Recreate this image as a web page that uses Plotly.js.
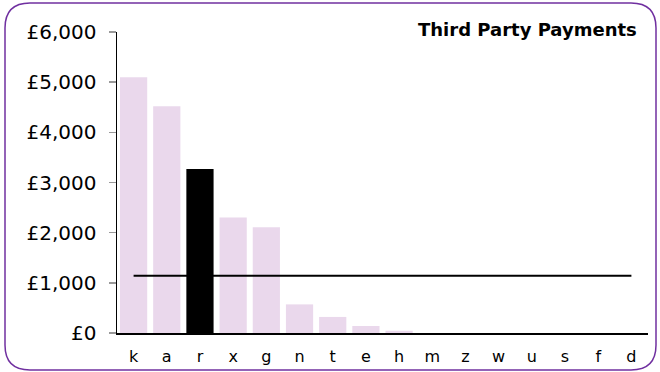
<!DOCTYPE html>
<html>
<head>
<meta charset="utf-8">
<script src="https://cdn.plot.ly/plotly-3.0.1.min.js"></script>
<style>
html,body{margin:0;padding:0;background:#fff;}
#chart{width:660px;height:372px;}
</style>
</head>
<body>
<div id="chart"></div>
<script>
// ---- data ----
const categories = ['k','a','r','x','g','n','t','e','h','m','z','w','u','s','f','d'];
const payments = [5100, 4520, 3270, 2300, 2110, 570, 320, 140, 45, 0, 0, 0, 0, 0, 0, 0];
const highlightCategory = 'r';
const averageValue = 1140;
const yTickValues = [0, 1000, 2000, 3000, 4000, 5000, 6000];
const yTickLabels = ['£0', '£1,000', '£2,000', '£3,000', '£4,000', '£5,000', '£6,000'];
const chartTitle = 'Third Party Payments';

// ---- layout geometry ----
const W = 660, H = 372;
const M = {l: 117, r: 12, t: 32, b: 39};
const pw = W - M.l - M.r, ph = H - M.t - M.b;
const px = x => (x - M.l) / pw;
const py = y => (H - M.b - y) / ph;

function roundRect(x0, y0, x1, y1, r) {
  const P = (x, y) => px(x) + ',' + py(y);
  return 'M' + P(x0 + r, y0) + ' L' + P(x1 - r, y0) + ' Q' + P(x1, y0) + ' ' + P(x1, y0 + r) +
    ' L' + P(x1, y1 - r) + ' Q' + P(x1, y1) + ' ' + P(x1 - r, y1) +
    ' L' + P(x0 + r, y1) + ' Q' + P(x0, y1) + ' ' + P(x0, y1 - r) +
    ' L' + P(x0, y0 + r) + ' Q' + P(x0, y0) + ' ' + P(x0 + r, y0) + ' Z';
}

const barColors = categories.map(c => c === highlightCategory ? '#000000' : '#EAD8EC');

const traces = [
  {
    type: 'bar',
    x: categories,
    y: payments,
    marker: {color: barColors, line: {width: 0}},
    hoverinfo: 'x+y'
  },
  {
    type: 'scatter',
    mode: 'lines',
    x: [categories[0], categories[categories.length - 1]],
    y: [averageValue, averageValue],
    line: {color: '#000000', width: 2},
    hoverinfo: 'skip'
  }
];

const layout = {
  width: W, height: H,
  margin: M,
  paper_bgcolor: '#ffffff',
  plot_bgcolor: '#ffffff',
  showlegend: false,
  bargap: 0.18,
  font: {family: 'DejaVu Sans, Verdana, sans-serif', color: '#000000'},
  xaxis: {
    type: 'category',
    range: [-0.5, categories.length - 0.5],
    showgrid: false,
    zeroline: false,
    showline: true,
    linecolor: '#000000',
    linewidth: 1.5,
    ticks: '',
    ticklabelstandoff: 8,
    tickfont: {size: 16, family: 'DejaVu Sans, Verdana, sans-serif'},
    fixedrange: true
  },
  yaxis: {
    range: [0, 6000],
    tickvals: yTickValues,
    ticktext: yTickLabels,
    showgrid: false,
    zeroline: false,
    showline: true,
    linecolor: '#000000',
    linewidth: 1.5,
    ticks: 'outside',
    ticklen: 7,
    tickwidth: 1.5,
    tickcolor: '#999999',
    ticklabelstandoff: 8,
    tickfont: {size: 20, family: 'DejaVu Sans, Verdana, sans-serif'},
    fixedrange: true
  },
  shapes: [
    {
      type: 'path',
      xref: 'paper', yref: 'paper',
      path: roundRect(5, 3, 656, 370, 25),
      line: {color: '#7030A0', width: 1.5},
      fillcolor: 'rgba(0,0,0,0)',
      layer: 'above'
    }
  ],
  annotations: [
    {
      text: '<b>' + chartTitle + '</b>',
      xref: 'paper', yref: 'paper',
      x: px(639), y: py(30),
      xanchor: 'right', yanchor: 'middle',
      showarrow: false,
      font: {size: 18, family: 'DejaVu Sans, Verdana, sans-serif', color: '#000000'}
    }
  ]
};

Plotly.newPlot('chart', traces, layout, {displayModeBar: false, staticPlot: true});
</script>
</body>
</html>
